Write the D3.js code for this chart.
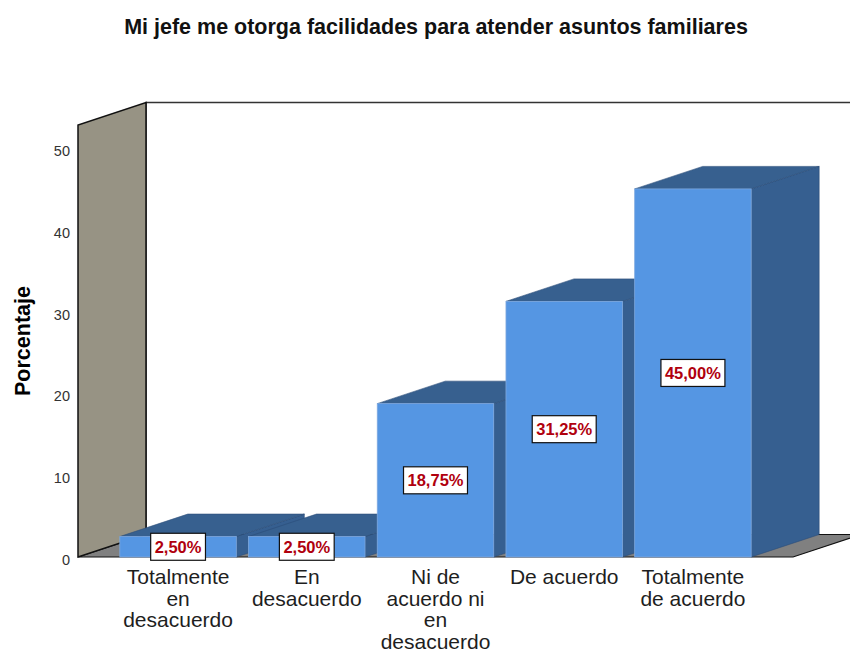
<!DOCTYPE html>
<html>
<head>
<meta charset="utf-8">
<script src="https://cdn.jsdelivr.net/npm/d3@7"></script>
<style>
  body{margin:0;background:#fff;}
  svg{display:block;}
</style>
</head>
<body>
<script>
// data
const categories = ['Totalmente\nen\ndesacuerdo', 'En\ndesacuerdo', 'Ni de\nacuerdo ni\nen\ndesacuerdo', 'De acuerdo', 'Totalmente\nde acuerdo'];
const percents = [2.50, 2.50, 18.75, 31.25, 45.00];
const yTicks = [0, 10, 20, 30, 40, 50];
const titleText = 'Mi jefe me otorga facilidades para atender asuntos familiares';
const yTitle = 'Porcentaje';

const w = 850, h = 653;
// 3d depth offset
const dx = 68, dy = -22.5;
const wallTop = 52.8; // axis top value

const svg = d3.select('body').append('svg').attr('width', w).attr('height', h);

const x = d3.scaleBand().domain(d3.range(categories.length)).range([78, 793])
  .paddingInner(0.095).paddingOuter(0.325);
const y = d3.scaleLinear().domain([0, 50]).range([557, 148]);

const pts = a => a.map(p => p.join(',')).join(' ');

// floor
svg.append('polygon')
  .attr('points', pts([[78, y(0)], [793, y(0)], [793 + dx, y(0) + dy], [78 + dx, y(0) + dy]]))
  .style('fill', '#808080').style('stroke', '#111').style('stroke-width', 1.2);

// back wall edges
svg.append('path')
  .attr('d', `M${78 + dx},${y(0) + dy}V${y(wallTop) + dy}H${w + 20}`)
  .style('fill', 'none').style('stroke', '#333').style('stroke-width', 1.5);

// left wall
svg.append('polygon')
  .attr('points', pts([[78, y(0)], [78, y(wallTop)], [78 + dx, y(wallTop) + dy], [78 + dx, y(0) + dy]]))
  .style('fill', '#979384').style('stroke', '#111').style('stroke-width', 1.5);

// bars
const bars = svg.append('g');
percents.forEach((v, i) => {
  const x0 = x(i), x1 = x(i) + x.bandwidth(), yt = y(v), yb = y(0);
  const g = bars.append('g');
  g.append('polygon')
    .attr('points', pts([[x1, yb], [x1, yt], [x1 + dx, yt + dy], [x1 + dx, yb + dy]]))
    .style('fill', '#365f90').style('stroke', '#2c4e78').style('stroke-width', 0.6);
  g.append('polygon')
    .attr('points', pts([[x0, yt], [x0 + dx, yt + dy], [x1 + dx, yt + dy], [x1, yt]]))
    .style('fill', '#37608f').style('stroke', '#2c4e78').style('stroke-width', 0.6);
  g.append('rect')
    .attr('x', x0).attr('y', yt).attr('width', x.bandwidth()).attr('height', yb - yt)
    .style('fill', '#5596e3').style('stroke', '#7fa9df').style('stroke-width', 0.8);
});

// value labels
const fmt = v => v.toFixed(2).replace('.', ',') + '%';
const labels = svg.append('g');
percents.forEach((v, i) => {
  const cx = x(i) + x.bandwidth() / 2, cy = (y(v) + y(0)) / 2;
  const lg = labels.append('g');
  const t = lg.append('text')
    .attr('x', cx).attr('y', cy + 6)
    .attr('text-anchor', 'middle')
    .style('font-family', '"Liberation Sans", Arial, sans-serif')
    .style('font-weight', 'bold').style('font-size', '16.5px')
    .style('fill', '#b0000e')
    .text(fmt(v));
  const bw = t.node().getComputedTextLength() + 8;
  lg.insert('rect', 'text')
    .attr('x', cx - bw / 2).attr('y', cy - 13.5).attr('width', bw).attr('height', 27)
    .style('fill', '#fff').style('stroke', '#111').style('stroke-width', 1.2);
});

// category labels
categories.forEach((c, i) => {
  const t = svg.append('text')
    .attr('text-anchor', 'middle')
    .style('font-family', '"Liberation Sans", Arial, sans-serif')
    .style('font-size', '21px').style('fill', '#1e1e1e');
  c.split('\n').forEach((line, j) => {
    t.append('tspan').attr('x', x(i) + x.bandwidth() / 2).attr('y', 584 + j * 21.5).text(line);
  });
});

// y tick labels
svg.append('g').selectAll('text').data(yTicks).enter().append('text')
  .attr('x', 70).attr('y', d => y(d) + 8)
  .attr('text-anchor', 'end')
  .style('font-family', '"Liberation Sans", Arial, sans-serif')
  .style('font-size', '14.5px').style('fill', '#333')
  .text(d => d);

// y title
svg.append('text')
  .attr('transform', 'translate(30,341) rotate(-90)')
  .attr('text-anchor', 'middle')
  .style('font-family', '"Liberation Sans", Arial, sans-serif')
  .style('font-weight', 'bold').style('font-size', '21.5px').style('fill', '#000')
  .text(yTitle);

// title
svg.append('text')
  .attr('x', 436).attr('y', 34)
  .attr('text-anchor', 'middle')
  .style('font-family', '"Liberation Sans", Arial, sans-serif')
  .style('font-weight', 'bold').style('font-size', '21.5px').style('fill', '#111')
  .text(titleText);
</script>
</body>
</html>
